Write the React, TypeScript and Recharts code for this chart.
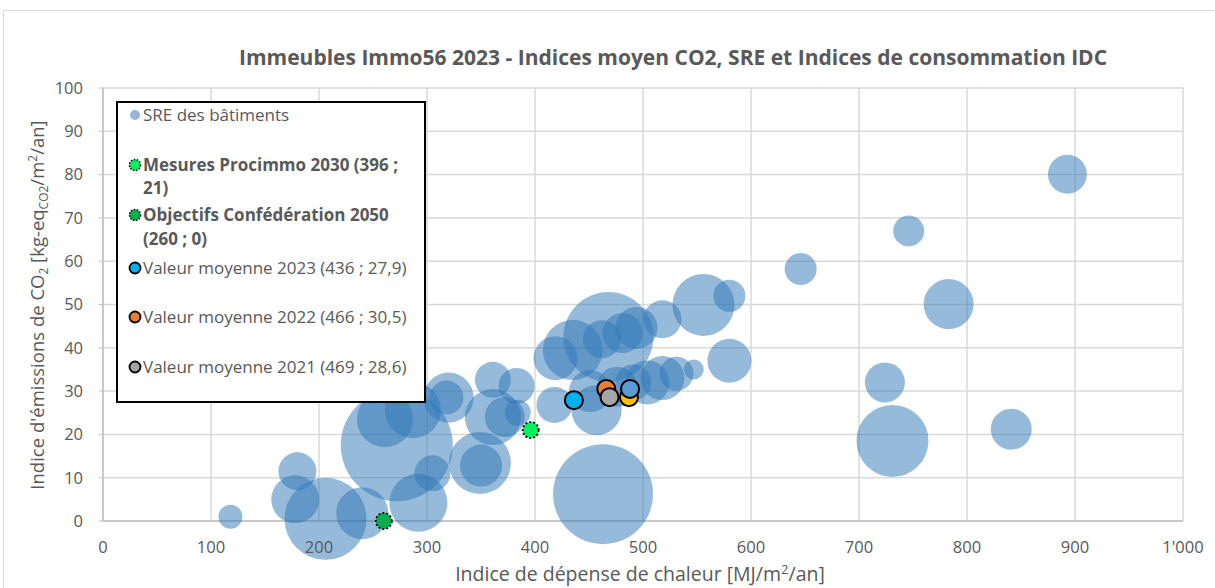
import { ScatterChart, Scatter, XAxis, YAxis, ZAxis, CartesianGrid } from "recharts";

// Bubbles: IDC [MJ/m2/an], CO2 [kg-eq/m2/an], SRE [m2]
const idcValues = [118, 180, 178, 206, 240, 272, 292, 305, 261, 287, 320, 318, 349, 350, 361, 361, 372, 383, 384, 418, 419, 435, 468, 462, 481, 494, 518, 556, 580, 580, 547, 463, 457, 451, 476, 491, 504, 518, 531, 893, 746, 646, 783, 724, 731, 841];
const co2Values = [1, 11.5, 5, 0.5, 1.8, 17.5, 4.2, 11, 23.5, 25.6, 28.5, 28.5, 13.4, 12.8, 32.6, 24, 24, 31.2, 25, 26.8, 37.6, 39.5, 42.5, 42, 43.4, 44.6, 46.6, 49.9, 52, 37, 35, 6.2, 25.6, 30, 31, 32, 32, 33, 34, 80.1, 67, 58.2, 50.1, 32, 18.5, 21.2];
const sreValues = [720, 1800, 2880, 8400, 3380, 15680, 4200, 1620, 3920, 3920, 3125, 1445, 4805, 2205, 1620, 3920, 2000, 1620, 845, 1620, 2420, 4500, 10125, 1805, 2000, 2205, 1805, 4805, 1280, 2420, 500, 12500, 3125, 2205, 2000, 1620, 2420, 2420, 1445, 1900, 1200, 1280, 3125, 2000, 6480, 2100];

const bubbles = idcValues.map((idc, i) => ({ idc, co2: co2Values[i], sre: sreValues[i] }));

// Reference / mean points
const pointNames = ["Mesures Procimmo 2030 (396 ; 21)", "Objectifs Confédération 2050 (260 ; 0)", "Valeur moyenne 2023 (436 ; 27,9)", "Valeur moyenne 2022 (466 ; 30,5)", "Valeur moyenne 2021 (469 ; 28,6)", "Valeur moyenne 2020", "Valeur moyenne 2019"];
const pointIdc = [396, 260, 436, 466, 469, 487, 488];
const pointCo2 = [21, 0, 27.9, 30.5, 28.6, 28.6, 30.5];
const pointColors = ["#00F060", "#00B050", "#00B0F0", "#ED7D31", "#A5A5A5", "#FFC000", "#5B9BD5"];
const pointDotted = [true, true, false, false, false, false, false];

const xTicks = [0, 100, 200, 300, 400, 500, 600, 700, 800, 900, 1000];
const yTicks = [0, 10, 20, 30, 40, 50, 60, 70, 80, 90, 100];

const FONT = "'Open Sans', 'Noto Sans', sans-serif";
const TEXT = "#595959";

// legend rows: y = centre of the line inside the box
const legendRows = [
  { label: "SRE des bâtiments", marker: "sre", bold: false, y: 12 },
  { label: "Mesures Procimmo 2030 (396 ;", marker: 0, bold: true, y: 62 },
  { label: "21)", marker: null, bold: true, y: 85 },
  { label: "Objectifs Confédération 2050", marker: 1, bold: true, y: 112 },
  { label: "(260 ; 0)", marker: null, bold: true, y: 136 },
  { label: "Valeur moyenne 2023 (436 ; 27,9)", marker: 2, bold: false, y: 165 },
  { label: "Valeur moyenne 2022 (466 ; 30,5)", marker: 3, bold: false, y: 214 },
  { label: "Valeur moyenne 2021 (469 ; 28,6)", marker: 4, bold: false, y: 264 },
];

const LegendMarker = ({ marker }: { marker: any }) => {
  if (marker === null) return null;
  if (marker === "sre") {
    return (
      <svg width={14} height={14} style={{ position: "absolute", left: 10, top: -7 }}>
        <circle cx={7} cy={7} r={5} fill="#95B7DA" />
      </svg>
    );
  }
  return (
    <svg width={14} height={14} style={{ position: "absolute", left: 10, top: -7 }}>
      <circle
        cx={7}
        cy={7}
        r={5.5}
        fill={pointColors[marker]}
        stroke="#000"
        strokeWidth={pointDotted[marker] ? 1.5 : 1.8}
        strokeDasharray={pointDotted[marker] ? "1.5 1.5" : undefined}
      />
    </svg>
  );
};

const LegendBox = () => (
  <div
    style={{
      position: "absolute",
      left: 116,
      top: 101,
      width: 306,
      height: 298,
      border: "2px solid #000",
      background: "#fff",
      fontFamily: FONT,
      fontSize: 17,
      color: TEXT,
    }}
  >
    {legendRows.map((row, i) => (
      <div key={i} style={{ position: "absolute", left: 0, top: row.y, width: 306, height: 0 }}>
        <LegendMarker marker={row.marker} />
        <span
          style={{
            position: "absolute",
            left: 25,
            top: -12,
            lineHeight: "24px",
            fontWeight: row.bold ? 700 : 400,
            whiteSpace: "nowrap",
          }}
        >
          {row.label}
        </span>
      </div>
    ))}
  </div>
);

const makePointShape = (i: number) => (p: any) => (
  <circle
    cx={p.cx}
    cy={p.cy}
    r={pointDotted[i] ? 8 : 9}
    fill={pointColors[i]}
    stroke="#000"
    strokeWidth={pointDotted[i] ? 1.8 : 2}
    strokeDasharray={pointDotted[i] ? "2 2" : undefined}
  />
);

export default function App() {
  return (
    <div style={{ position: "absolute", left: 0, top: 0, width: 1215, height: 588, background: "#fff", overflow: "hidden" }}>
      <div
        style={{
          position: "absolute",
          left: 3,
          top: 10,
          width: 1230,
          height: 600,
          borderLeft: "1.5px solid #D9D9D9",
          borderTop: "1.5px solid #D9D9D9",
        }}
      />
      <ScatterChart width={1215} height={588} margin={{ top: 88, right: 32, bottom: 37, left: 43 }}>
        <CartesianGrid stroke="#D9D9D9" strokeWidth={1.5} />
        <XAxis
          type="number"
          dataKey="idc"
          domain={[0, 1000]}
          ticks={xTicks}
          height={30}
          tickFormatter={(v: number) => (v === 1000 ? "1'000" : String(v))}
          axisLine={{ stroke: "#BFBFBF", strokeWidth: 1.5 }}
          tickLine={false}
          tickSize={5}
          tickMargin={15}
          tick={{ fill: TEXT, fontSize: 16.5, fontFamily: FONT }}
        />
        <YAxis
          type="number"
          dataKey="co2"
          domain={[0, 100]}
          ticks={yTicks}
          interval={0}
          width={60}
          axisLine={{ stroke: "#BFBFBF", strokeWidth: 1.5 }}
          tickLine={{ stroke: "#BFBFBF" }}
          tickSize={4}
          tickMargin={16}
          tick={{ fill: TEXT, fontSize: 16.5, fontFamily: FONT }}
        />
        <ZAxis type="number" dataKey="sre" domain={[0, 20000]} range={[0, 12566]} />
        <Scatter name="SRE des bâtiments" data={bubbles} fill="rgba(46,117,182,0.5)" isAnimationActive={false} />
        {pointNames.map((name, i) => (
          <Scatter
            key={name}
            name={name}
            data={[{ idc: pointIdc[i], co2: pointCo2[i] }]}
            fill={pointColors[i]}
            shape={makePointShape(i)}
            isAnimationActive={false}
          />
        ))}
      </ScatterChart>
      <LegendBox />
      <div
        style={{
          position: "absolute",
          left: 673,
          top: 57,
          transform: "translate(-50%, -50%)",
          whiteSpace: "nowrap",
          fontFamily: FONT,
          fontWeight: 700,
          fontSize: 21,
          color: TEXT,
        }}
      >
        Immeubles Immo56 2023 - Indices moyen CO2, SRE et Indices de consommation IDC
      </div>
      <div
        style={{
          position: "absolute",
          left: 38,
          top: 305,
          transform: "translate(-50%, -50%) rotate(-90deg)",
          whiteSpace: "nowrap",
          fontFamily: FONT,
          fontSize: 18.5,
          color: TEXT,
        }}
      >
        Indice d'émissions de CO<sub style={{ fontSize: 12 }}>2</sub> [kg-eq<sub style={{ fontSize: 12 }}>CO2</sub>/m<sup style={{ fontSize: 12 }}>2</sup>/an]
      </div>
      <div
        style={{
          position: "absolute",
          left: 640,
          top: 574,
          transform: "translate(-50%, -50%)",
          whiteSpace: "nowrap",
          fontFamily: FONT,
          fontSize: 19.5,
          lineHeight: "22px",
          color: TEXT,
        }}
      >
        Indice de dépense de chaleur [MJ/m<sup style={{ fontSize: 13, lineHeight: 0 }}>2</sup>/an]
      </div>
    </div>
  );
}
